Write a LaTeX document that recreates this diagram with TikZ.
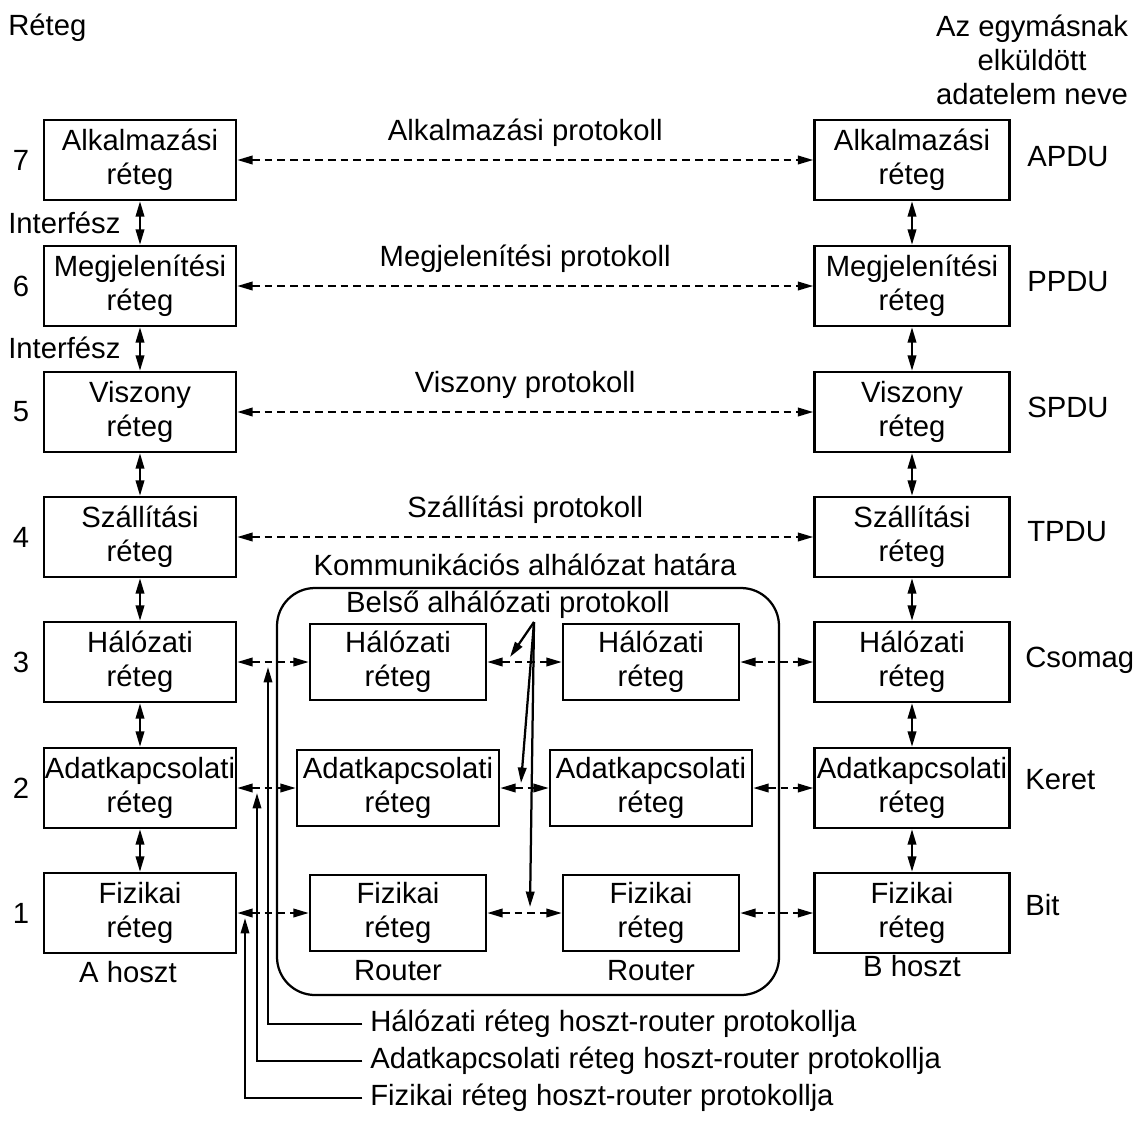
\documentclass[tikz,border=0pt]{standalone}
\usepackage{fontspec}
\setmainfont{Liberation Sans}
\usetikzlibrary{arrows.meta,positioning}

\begin{document}
\begin{tikzpicture}[
  x=0.025cm, y=-0.025cm,
  font=\fontsize{20.8}{24}\selectfont,
  layer/.style={draw, line width=1.6pt, minimum width=4.8cm, minimum height=2cm, align=center, inner sep=0pt},
  hostB/.style={layer, minimum width=4.875cm},
  rtr/.style={draw, line width=1.6pt, minimum width=4.4cm, minimum height=1.9cm, align=center, inner sep=0pt},
  rtrwide/.style={rtr, minimum width=5.05cm},
  txt/.style={inner sep=0pt},
  updown/.style={{Triangle[length=11pt,width=6pt]}-{Triangle[length=11pt,width=6pt]}, line width=1.6pt},
  dasharrow/.style={updown, dash pattern=on 5.5pt off 3.5pt},
  arrow/.style={-{Triangle[length=11pt,width=6pt]}, line width=1.6pt}
]
  \useasboundingbox (0,0) rectangle (1135,1124);

  \node[layer] (alkA) at (140,160) {Alkalmazási\\réteg};
  \node[layer] (megA) at (140,286) {Megjelenítési\\réteg};
  \node[layer] (visA) at (140,412) {Viszony\\réteg};
  \node[layer] (szaA) at (140,537) {Szállítási\\réteg};
  \node[layer] (halA) at (140,662) {Hálózati\\réteg};
  \node[layer] (adaA) at (140,788) {Adatkapcsolati\\réteg};
  \node[layer] (fizA) at (140,913) {Fizikai\\réteg};

  \node[hostB] (alkB) at (912,160) {Alkalmazási\\réteg};
  \node[hostB] (megB) at (912,286) {Megjelenítési\\réteg};
  \node[hostB] (visB) at (912,412) {Viszony\\réteg};
  \node[hostB] (szaB) at (912,537) {Szállítási\\réteg};
  \node[hostB] (halB) at (912,662) {Hálózati\\réteg};
  \node[hostB] (adaB) at (912,788) {Adatkapcsolati\\réteg};
  \node[hostB] (fizB) at (912,913) {Fizikai\\réteg};

  \node[rtr] (halR1) at (398,662) {Hálózati\\réteg};
  \node[rtrwide] (adaR1) at (398,788) {Adatkapcsolati\\réteg};
  \node[rtr] (fizR1) at (398,913) {Fizikai\\réteg};
  \node[rtr] (halR2) at (651,662) {Hálózati\\réteg};
  \node[rtrwide] (adaR2) at (651,788) {Adatkapcsolati\\réteg};
  \node[rtr] (fizR2) at (651,913) {Fizikai\\réteg};

  \draw[line width=1.6pt, rounded corners=0.95cm] (277,588) rectangle (779,995);

  \node[txt, anchor=west] (reteg) at (8,28) {Réteg};
  \node[txt, align=center] (pduhead) at (1032,60) {Az egymásnak\\elküldött\\adatelem neve};

  \node[txt] (n7) at (21,160) {7};
  \node[txt] (n6) at (21,286) {6};
  \node[txt] (n5) at (21,412) {5};
  \node[txt] (n4) at (21,537) {4};
  \node[txt] (n3) at (21,662) {3};
  \node[txt] (n2) at (21,788) {2};
  \node[txt] (n1) at (21,913) {1};

  \node[txt, anchor=west] (if1) at (8,223) {Interfész};
  \node[txt, anchor=west] (if2) at (8,348) {Interfész};

  \node[txt, anchor=west] (apdu) at (1027,157) {APDU};
  \node[txt, anchor=west] (ppdu) at (1027,282) {PPDU};
  \node[txt, anchor=west] (spdu) at (1027,407) {SPDU};
  \node[txt, anchor=west] (tpdu) at (1027,532) {TPDU};
  \node[txt, anchor=west] (csomag) at (1025,660) {Csomag};
  \node[txt, anchor=west] (keret) at (1025,780) {Keret};
  \node[txt, anchor=west] (bit) at (1025,905) {Bit};

  \node[txt] (hostA) at (128,972) {A hoszt};
  \node[txt] (hostBl) at (912,966) {B hoszt};
  \node[txt, below=6pt of fizR1] (rtr1) {Router};
  \node[txt, below=6pt of fizR2] (rtr2) {Router};

  \node[txt] (hatar) at (525,565) {Kommunikációs alhálózat határa};
  \node[txt] (belso) at (508,605) {Belső alhálózati protokoll};

  \draw[dasharrow] (alkA) -- (alkB) node[txt, midway, above=9pt] (alkP) {Alkalmazási protokoll};
  \draw[dasharrow] (megA) -- (megB) node[txt, midway, above=9pt] (megP) {Megjelenítési protokoll};
  \draw[dasharrow] (visA) -- (visB) node[txt, midway, above=9pt] (visP) {Viszony protokoll};
  \draw[dasharrow] (szaA) -- (szaB) node[txt, midway, above=9pt] (szaP) {Szállítási protokoll};

  \draw[dasharrow] (halA) -- (halR1);
  \draw[dasharrow] (halR1) -- (halR2);
  \draw[dasharrow] (halR2) -- (halB);
  \draw[dasharrow] (adaA) -- (adaR1);
  \draw[dasharrow] (adaR1) -- (adaR2);
  \draw[dasharrow] (adaR2) -- (adaB);
  \draw[dasharrow] (fizA) -- (fizR1);
  \draw[dasharrow] (fizR1) -- (fizR2);
  \draw[dasharrow] (fizR2) -- (fizB);

  \draw[updown] (alkA) -- (megA);
  \draw[updown] (megA) -- (visA);
  \draw[updown] (visA) -- (szaA);
  \draw[updown] (szaA) -- (halA);
  \draw[updown] (halA) -- (adaA);
  \draw[updown] (adaA) -- (fizA);
  \draw[updown] (alkB) -- (megB);
  \draw[updown] (megB) -- (visB);
  \draw[updown] (visB) -- (szaB);
  \draw[updown] (szaB) -- (halB);
  \draw[updown] (halB) -- (adaB);
  \draw[updown] (adaB) -- (fizB);

  \coordinate (belsoFrom) at (534,622);
  \coordinate (halMid) at (510,657);
  \coordinate (adaMid) at (521,783);
  \coordinate (fizMid) at (530,907);
  \draw[arrow] (belsoFrom) -- (halMid);
  \draw[arrow] (belsoFrom) -- (adaMid);
  \draw[arrow] (belsoFrom) -- (fizMid);

  \node[txt, anchor=west] (halHR) at (370,1024) {Hálózati réteg hoszt-router protokollja};
  \node[txt, anchor=west] (adaHR) at (370,1061) {Adatkapcsolati réteg hoszt-router protokollja};
  \node[txt, anchor=west] (fizHR) at (370,1098) {Fizikai réteg hoszt-router protokollja};
  \coordinate (halTip) at (268,667);
  \coordinate (adaTip) at (257,793);
  \coordinate (fizTip) at (245,918);
  \draw[arrow] ([xshift=-5.5pt]halHR.west) -| (halTip);
  \draw[arrow] ([xshift=-5.5pt]adaHR.west) -| (adaTip);
  \draw[arrow] ([xshift=-5.5pt]fizHR.west) -| (fizTip);
\end{tikzpicture}
\end{document}
